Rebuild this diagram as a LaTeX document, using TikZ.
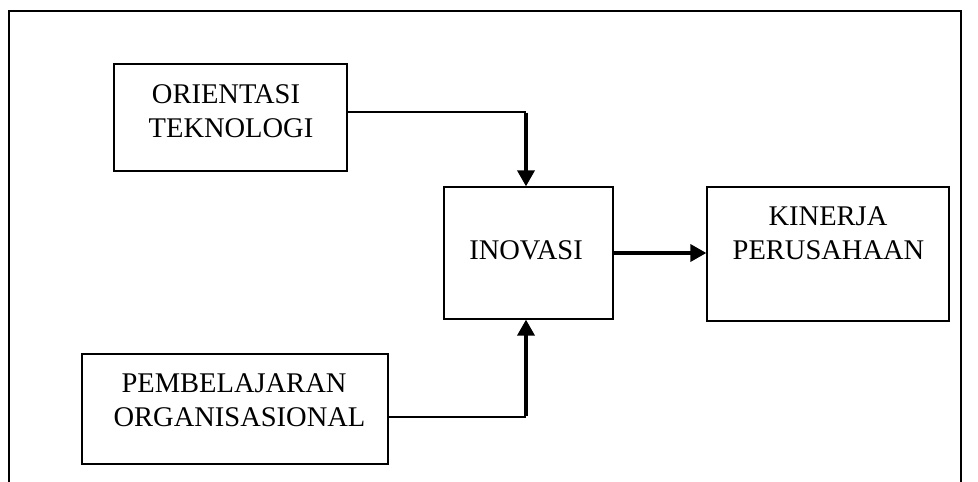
\documentclass[tikz,border=0pt]{standalone}
\usepackage{fontspec}
\setmainfont{Liberation Serif}
\usetikzlibrary{arrows.meta}
\begin{document}
\begin{tikzpicture}[x=1pt,y=-1pt,
  box/.style={draw, line width=1.3pt, inner sep=0pt},
  lbl/.style={anchor=base, inner sep=0pt, font=\fontsize{28.5pt}{34pt}\selectfont},
  thinline/.style={line width=1.4pt},
  thickline/.style={line width=3.6pt, -{Triangle[length=16pt,width=17pt]}}]
\useasboundingbox (0,0) rectangle (978,482);
% outer frame
\draw[line width=1.5pt] (9,482) -- (9,11) -- (961,11) -- (961,482);
% boxes
\node (ot) [box, minimum width=233pt, minimum height=107pt] at (230.5,117.5) {};
\node (ino) [box, minimum width=169pt, minimum height=132pt] at (528.5,253) {};
\node (kp) [box, minimum width=242pt, minimum height=134pt] at (828,254) {};
\node (pb) [box, minimum width=306pt, minimum height=110pt] at (235,409) {};
% labels
\node (t1) [lbl] at (226,103) {ORIENTASI};
\node (t2) [lbl] at (231,137) {TEKNOLOGI};
\node (t3) [lbl] at (526,259) {INOVASI};
\node (t4) [lbl] at (828,225) {KINERJA};
\node (t5) [lbl] at (828.5,259) {PERUSAHAAN};
\node (t6) [lbl] at (234,392) {PEMBELAJARAN};
\node (t7) [lbl] at (239.5,426) {ORGANISASIONAL};
% connectors
\coordinate (j1) at (526,112);
\coordinate (j2) at (526,417);
\draw[thinline] (j1 -| ot.east) -- (j1);
\draw[thickline] ([yshift=-0.7pt]j1) -- (j1 |- ino.north);
\draw[thinline] (j2 -| pb.east) -- (j2);
\draw[thickline] ([yshift=0.7pt]j2) -- (j2 |- ino.south);
\draw[thickline] (ino.east) -- (ino.east -| kp.west);
\end{tikzpicture}
\end{document}
